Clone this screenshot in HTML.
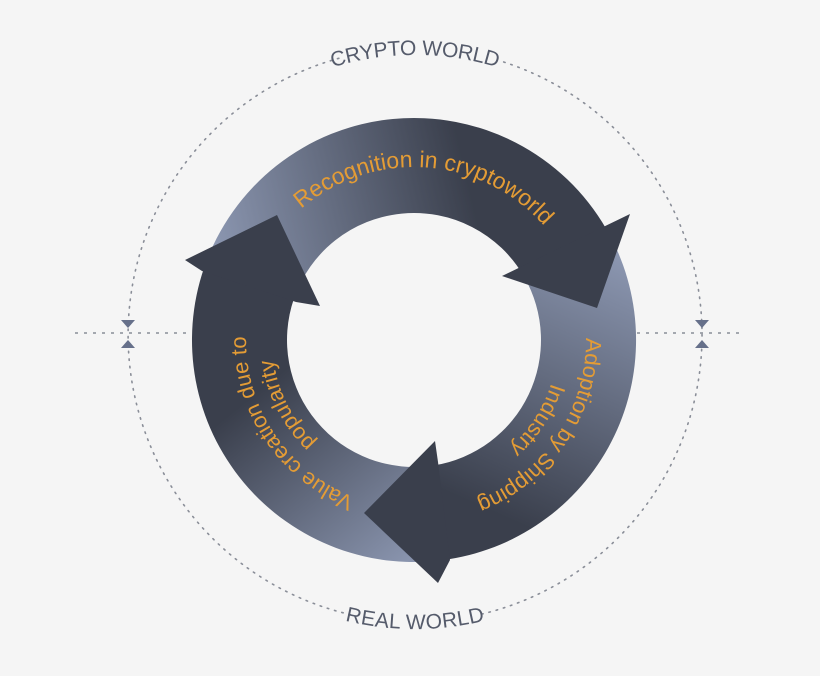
<!DOCTYPE html>
<html><head><meta charset="utf-8">
<style>
html,body{margin:0;padding:0;background:#f5f5f5;}
svg{display:block;}
text{font-family:"Liberation Sans",sans-serif;}
</style></head>
<body>
<svg id="s" width="820" height="676" viewBox="0 0 820 676" xmlns="http://www.w3.org/2000/svg">
<defs>
<linearGradient id="gA" gradientUnits="userSpaceOnUse" x1="215" y1="250" x2="470" y2="190">
<stop offset="0" stop-color="#8b96b0"/><stop offset="1" stop-color="#3a3f4c"/></linearGradient>
<linearGradient id="gB" gradientUnits="userSpaceOnUse" x1="625" y1="260" x2="510" y2="520">
<stop offset="0" stop-color="#8b96b0"/><stop offset="1" stop-color="#3a3f4c"/></linearGradient>
<linearGradient id="gC" gradientUnits="userSpaceOnUse" x1="405" y1="570" x2="260" y2="390">
<stop offset="0" stop-color="#8b96b0"/><stop offset="1" stop-color="#3a3f4c"/></linearGradient>
<path id="tTop" d=""/>
<path id="tR1" d=""/><path id="tR2" d=""/>
<path id="tL1" d=""/><path id="tL2" d=""/>
<path id="tCW" d=""/><path id="tRW" d=""/>
</defs>
<path id="dc1" fill="none" stroke="#8a8e98" stroke-width="1.6" stroke-dasharray="1.5 6" stroke-linecap="round"/>
<path id="dc2" fill="none" stroke="#8a8e98" stroke-width="1.6" stroke-dasharray="1.5 6" stroke-linecap="round"/>
<line x1="75" y1="333" x2="190" y2="333" stroke="#8a8e98" stroke-width="1.5" stroke-dasharray="3 6"/>
<line x1="637" y1="333" x2="745" y2="333" stroke="#8a8e98" stroke-width="1.5" stroke-dasharray="3 6"/>
<polygon points="121,320 135,320 128,328" fill="#66708a"/>
<polygon points="121,348 135,348 128,340" fill="#66708a"/>
<polygon points="695,320 709,320 702,328" fill="#66708a"/>
<polygon points="695,348 709,348 702,340" fill="#66708a"/>

<path id="bA" fill="url(#gA)"/>
<path id="bB" fill="url(#gB)"/>
<path id="bC" fill="url(#gC)"/>
<polygon points="630,214 597,308 502,276" fill="#3a3f4c"/>
<polygon points="435,441 364,513 438,583 450,560 438,462" fill="#3a3f4c"/>
<polygon points="185,260 277,215 320,306 296,302 202,271" fill="#3a3f4c"/>

<g fill="#e49c35" font-size="23">
<text><textPath href="#tTop" startOffset="50%" text-anchor="middle">Recognition in cryptoworld</textPath></text>
<text font-size="22"><textPath href="#tR1" startOffset="50%" text-anchor="middle">Adoption by Shipping</textPath></text>
<text font-size="22"><textPath href="#tR2" startOffset="50%" text-anchor="middle">Industry</textPath></text>
<text font-size="22"><textPath href="#tL1" startOffset="50%" text-anchor="middle">Value creation due to</textPath></text>
<text font-size="22"><textPath href="#tL2" startOffset="50%" text-anchor="middle">popularity</textPath></text>
</g>
<g fill="#555b6b" font-size="21">
<text dominant-baseline="central"><textPath href="#tCW" startOffset="50%" text-anchor="middle">CRYPTO WORLD</textPath></text>
<text dominant-baseline="central"><textPath href="#tRW" startOffset="50%" text-anchor="middle">REAL WORLD</textPath></text>
</g>
</svg>
<script>
var cx=414,cy=340,R=222,r=127;
function p(rad,a,x0,y0){x0=x0||cx;y0=y0||cy;var t=a*Math.PI/180;return (x0+rad*Math.cos(t)).toFixed(1)+","+(y0+rad*Math.sin(t)).toFixed(1);}
function band(a0,a1){var l=(a1-a0)>180?1:0;return "M"+p(R,a0)+" A"+R+" "+R+" 0 "+l+" 1 "+p(R,a1)+" L"+p(r,a1)+" A"+r+" "+r+" 0 "+l+" 0 "+p(r,a0)+" Z";}
function arc(rad,a0,a1,sw,x0,y0){var l=Math.abs(a1-a0)>180?1:0;return "M"+p(rad,a0,x0,y0)+" A"+rad+" "+rad+" 0 "+l+" "+sw+" "+p(rad,a1,x0,y0);}
function S(id,d){document.getElementById(id).setAttribute("d",d);}
S("bA",band(199,330));S("bB",band(330,441));S("bC",band(81,199));
S("tTop",arc(173,204,344,1));
S("tR1",arc(172,-16,84,1));S("tR2",arc(144,-17,83,1));
S("tL1",arc(168,96,196,1));S("tL2",arc(142,103,203,1));
var dx=415,dy=335,DR=287;
S("tCW",arc(DR,230,310,1,dx,dy));S("tRW",arc(DR,130,50,0,dx,dy));
S("dc1",arc(DR,288,437,1,dx,dy));S("dc2",arc(DR,103,255,1,dx,dy));
</script>
</body></html>
